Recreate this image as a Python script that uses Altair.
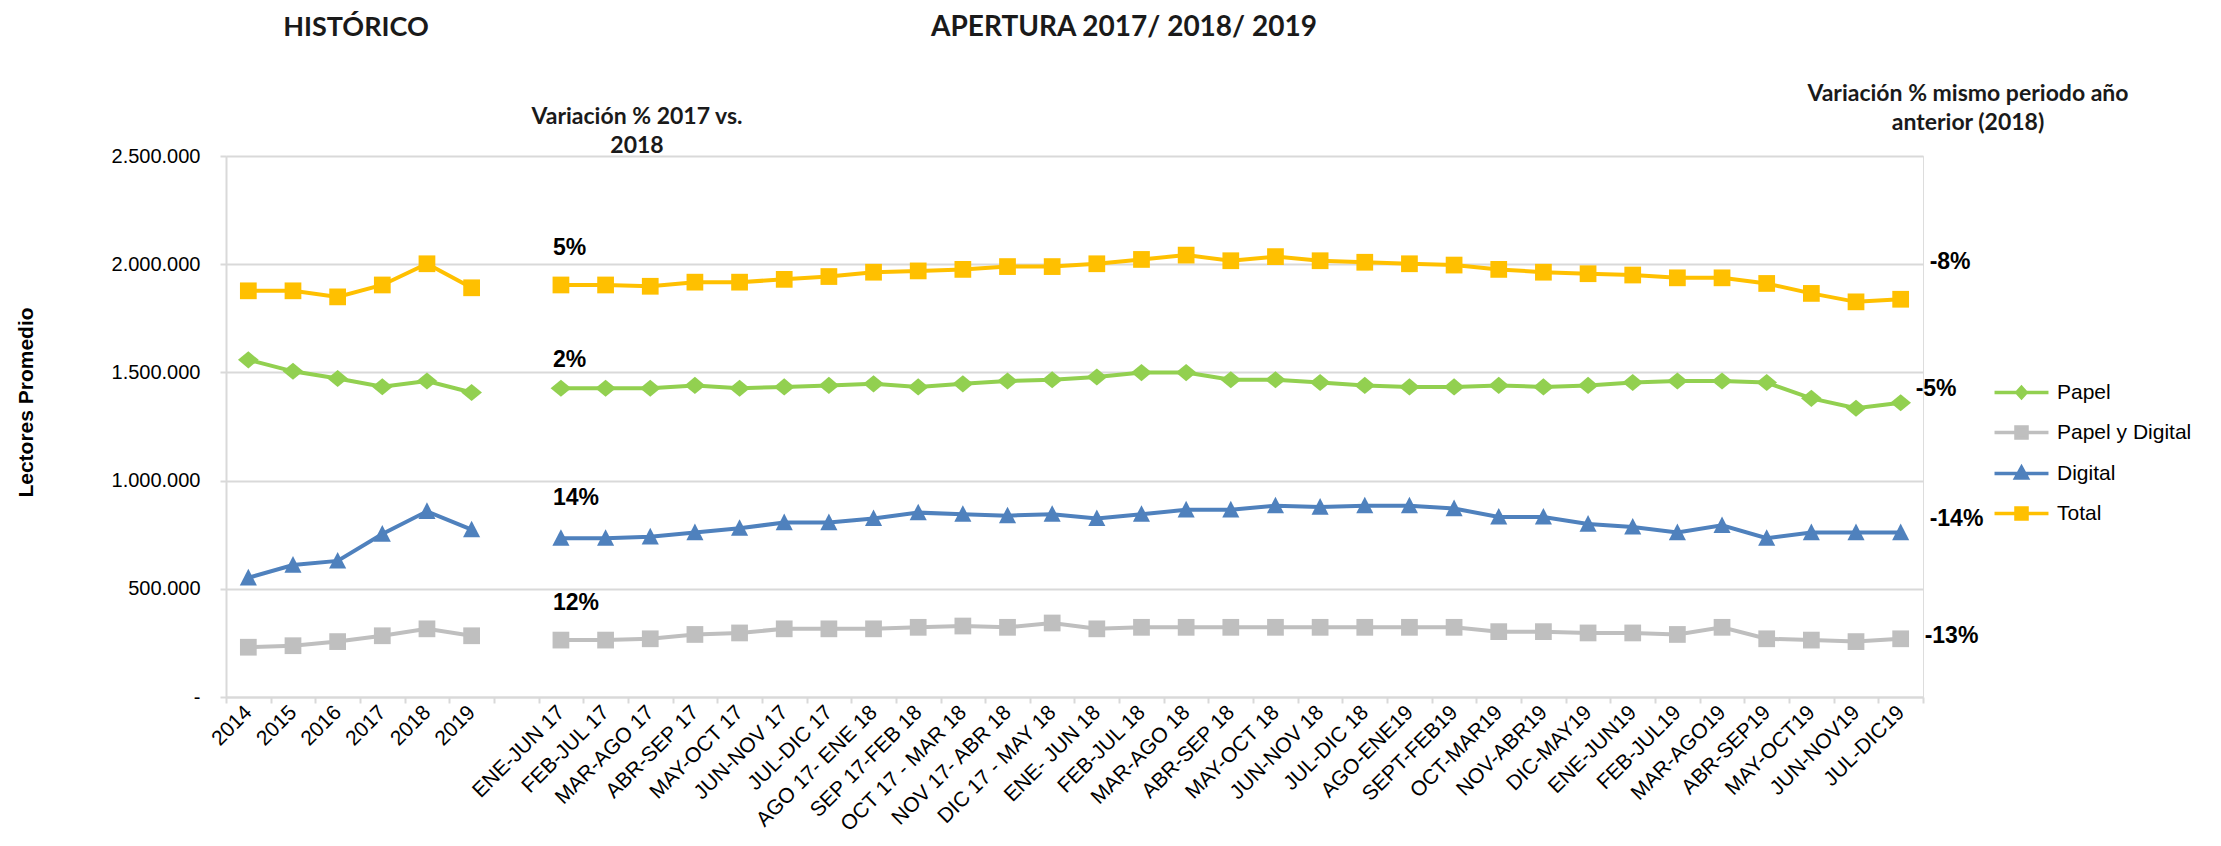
import altair as alt
import pandas as pd

# ---------------- data ----------------
hist_cats = ["2014", "2015", "2016", "2017", "2018", "2019"]
gap_cat = " "
period_cats = [
    "ENE-JUN 17", "FEB-JUL 17", "MAR-AGO 17", "ABR-SEP 17", "MAY-OCT 17",
    "JUN-NOV 17", "JUL-DIC 17", "AGO 17- ENE 18", "SEP 17-FEB 18",
    "OCT 17 - MAR 18", "NOV 17- ABR 18", "DIC 17 - MAY 18", "ENE- JUN 18",
    "FEB-JUL 18", "MAR-AGO 18", "ABR-SEP 18", "MAY-OCT 18", "JUN-NOV 18",
    "JUL-DIC 18", "AGO-ENE19", "SEPT-FEB19", "OCT-MAR19", "NOV-ABR19",
    "DIC-MAY19", "ENE-JUN19", "FEB-JUL19", "MAR-AGO19", "ABR-SEP19",
    "MAY-OCT19", "JUN-NOV19", "JUL-DIC19",
]
all_cats = hist_cats + [gap_cat] + period_cats

series_names = ["Papel", "Papel y Digital", "Digital", "Total"]
series_colors = ["#92D050", "#BFBFBF", "#4F81BD", "#FFC000"]

papel_hist = [1558000, 1505000, 1472000, 1434000, 1460000, 1407000]
papel_per = [1427000, 1427000, 1427000, 1440000, 1427000, 1433000, 1440000,
             1447000, 1433000, 1447000, 1460000, 1466000, 1479000, 1499000,
             1499000, 1466000, 1466000, 1453000, 1440000, 1433000, 1433000,
             1440000, 1433000, 1440000, 1453000, 1460000, 1460000, 1453000,
             1380000, 1334000, 1360000]

pyd_hist = [230000, 237000, 256000, 283000, 315000, 283000]
pyd_per = [263000, 263000, 269000, 289000, 296000, 315000, 315000, 315000,
           322000, 328000, 322000, 342000, 315000, 322000, 322000, 322000,
           322000, 322000, 322000, 322000, 322000, 302000, 302000, 296000,
           296000, 289000, 322000, 269000, 263000, 256000, 269000]

digital_hist = [551000, 610000, 629000, 753000, 858000, 773000]
digital_per = [734000, 734000, 740000, 760000, 780000, 806000, 806000, 825000,
               852000, 845000, 838000, 845000, 825000, 845000, 865000, 865000,
               884000, 878000, 884000, 884000, 871000, 832000, 832000, 799000,
               786000, 760000, 793000, 734000, 760000, 760000, 760000]

total_hist = [1877000, 1877000, 1849000, 1904000, 2002000, 1891000]
total_per = [1904000, 1904000, 1898000, 1917000, 1917000, 1930000, 1943000,
             1963000, 1969000, 1976000, 1989000, 1989000, 2002000, 2022000,
             2042000, 2016000, 2035000, 2016000, 2009000, 2002000, 1996000,
             1976000, 1963000, 1956000, 1950000, 1937000, 1937000, 1911000,
             1865000, 1826000, 1838000]

left_notes = ["2%", "12%", "14%", "5%"]      # variación 2017 vs 2018 (same order as series)
right_notes = ["-5%", "-13%", "-14%", "-8%"]  # variación mismo periodo año anterior

titles = ["HISTÓRICO", "APERTURA 2017/ 2018/ 2019"]
note_titles = ["Variación % 2017 vs.\n2018", "Variación % mismo periodo año\nanterior (2018)"]
y_title = "Lectores Promedio"

# ---------------- table ----------------
rows = []
for name, h, p in [("Papel", papel_hist, papel_per),
                   ("Papel y Digital", pyd_hist, pyd_per),
                   ("Digital", digital_hist, digital_per),
                   ("Total", total_hist, total_per)]:
    for c, v in zip(hist_cats, h):
        rows.append({"serie": name, "periodo": c, "valor": v, "grupo": "hist"})
    for c, v in zip(period_cats, p):
        rows.append({"serie": name, "periodo": c, "valor": v, "grupo": "per"})
df = pd.DataFrame(rows)

ann_rows = []
for name, ln, rn, p in zip(series_names, left_notes, right_notes,
                           [papel_per, pyd_per, digital_per, total_per]):
    ann_rows.append({"serie": name, "periodo": period_cats[0], "valor": p[0], "txt": ln, "lado": "izq"})
    ann_rows.append({"serie": name, "periodo": period_cats[-1], "valor": p[-1], "txt": rn, "lado": "der"})
ann = pd.DataFrame(ann_rows)

# ---------------- style ----------------
W, H = 1697, 541
ARIAL = "Liberation Sans, Arial, sans-serif"
TFONT = "Lato, Open Sans, sans-serif"
color_of = dict(zip(series_names, series_colors))
alpha_names = sorted(series_names)

marker_paths = {
    "Papel": "M0,-0.95L1.15,0L0,0.95L-1.15,0Z",
    "Papel y Digital": "M-0.93,-0.93H0.93V0.93H-0.93Z",
    "Digital": "M0,-1L0.95,0.85L-0.95,0.85Z",
    "Total": "M-0.93,-0.93H0.93V0.93H-0.93Z",
}
legend_paths = [
    "M-4.15,0H4.15M0,-0.8L0.72,0L0,0.8L-0.72,0Z",
    "M-4.15,0H4.15M-0.85,-0.85H0.85V0.85H-0.85Z",
    "M-4.15,0H4.15M0,-0.95L0.9,0.7L-0.9,0.7Z",
    "M-4.15,0H4.15M-0.85,-0.85H0.85V0.85H-0.85Z",
]

x_enc = alt.X("periodo:N", sort=all_cats, bandPosition=0.5,
              scale=alt.Scale(type="band", domain=all_cats, paddingInner=0, paddingOuter=0),
              axis=alt.Axis(title=None, labelAngle=-45, labelAlign="right", labelBaseline="middle",
                            labelFontSize=21, labelFont=ARIAL, labelColor="black",
                            labelPadding=6, tickBand="extent", tickSize=6, tickColor="#d9d9d9",
                            tickWidth=2, domainColor="#d9d9d9", domainWidth=2, grid=False,
                            labelOverlap=False))
y_enc = alt.Y("valor:Q",
              scale=alt.Scale(domain=[0, 2500000], nice=False, zero=True),
              axis=alt.Axis(title=y_title, values=[0, 500000, 1000000, 1500000, 2000000, 2500000],
                            labelExpr="datum.value == 0 ? '-\u00a0\u00a0\u00a0\u00a0\u00a0\u00a0' : join(split(format(datum.value, ','), ','), '.')",
                            labelFontSize=20, labelFont=ARIAL, labelColor="black", labelPadding=20,
                            tickSize=6, tickColor="#d9d9d9", tickWidth=2,
                            grid=True, gridColor="#d9d9d9", gridWidth=2,
                            domainColor="#d9d9d9", domainWidth=2,
                            titleFont=ARIAL, titleFontSize=21, titleFontWeight="bold", titleColor="black",
                            titleX=-200, titleY=246, titleAngle=-90, titleBaseline="middle",
                            titleAlign="center"))
# data-driven (alphabetical) domain for the line colours, so it stays apart from the legend scales
color_enc = alt.Color("serie:N", scale=alt.Scale(range=[color_of[n] for n in alpha_names]), legend=None)

base = alt.Chart(df)

lines = base.mark_line(strokeWidth=4).encode(x=x_enc, y=y_enc, color=color_enc, detail="grupo:N")

points = [
    base.transform_filter(alt.datum.serie == name)
    .mark_point(filled=True, opacity=1, shape=marker_paths[name], size=324)
    .encode(x=x_enc, y=y_enc, color=color_enc)
    for name in series_names
]

leg = alt.Legend(title=None, orient="none", legendX=1785, legendY=226,
                 labelFontSize=21, labelFont=ARIAL, labelColor="black",
                 symbolSize=169, symbolStrokeWidth=3.5, labelOffset=25,
                 rowPadding=14, symbolOpacity=1)
legend_layer = base.transform_filter("false").mark_point(filled=True).encode(
    x=x_enc, y=y_enc,
    fill=alt.Fill("serie:N", scale=alt.Scale(domain=series_names, range=series_colors), legend=leg),
    stroke=alt.Stroke("serie:N", scale=alt.Scale(domain=series_names, range=series_colors), legend=leg),
    shape=alt.Shape("serie:N", scale=alt.Scale(domain=series_names, range=legend_paths), legend=leg),
)

# annotation offsets (style only)
offsets = {
    ("Total", "izq"): (-8, -37), ("Papel", "izq"): (-8, -28),
    ("Digital", "izq"): (-8, -40), ("Papel y Digital", "izq"): (-8, -37),
    ("Total", "der"): (29, -37), ("Papel", "der"): (15, -14),
    ("Digital", "der"): (29, -14), ("Papel y Digital", "der"): (24, -3),
}
notes = []
for (name, side), (dx, dy) in offsets.items():
    notes.append(
        alt.Chart(ann).transform_filter((alt.datum.serie == name) & (alt.datum.lado == side))
        .mark_text(align="left", baseline="middle", dx=dx, dy=dy, fontSize=23,
                   fontWeight="bold", font=ARIAL, color="black")
        .encode(x=alt.X("periodo:N", sort=all_cats, bandPosition=0.5),
                y=alt.Y("valor:Q"), text="txt:N")
    )

def label(txt, x, y, size, lh=None):
    kw = dict(align="center", baseline="middle", fontSize=size, fontWeight="bold",
              font=TFONT, color="#1a1a1a")
    if lh:
        kw.update(lineBreak="\n", lineHeight=lh)
    return alt.Chart(pd.DataFrame({"t": [txt]})).mark_text(**kw).encode(
        text="t:N", x=alt.value(x), y=alt.value(y))

texts = [
    label(titles[0], 130, -128, 27),
    label(titles[1], 898, -128, 28),
    label(note_titles[0], 411, -39, 23, 29),
    label(note_titles[1], 1742, -62, 23, 29),
]

chart = alt.layer(lines, *points, legend_layer, *notes, *texts).properties(
    width=W, height=H, autosize="none",
    padding={"left": 218, "top": 148, "right": 290, "bottom": 141},
).configure_view(stroke=None).configure(background="white")

chart.save("out.html", embed_options={"renderer": "svg", "actions": False})
